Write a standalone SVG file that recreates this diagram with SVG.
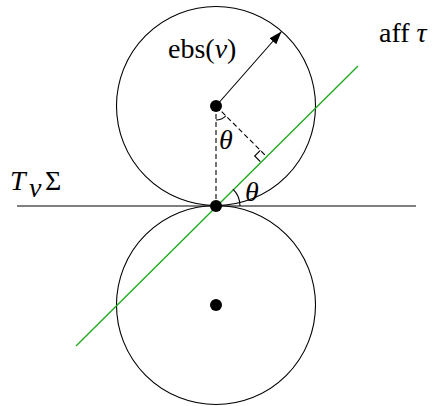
<svg xmlns="http://www.w3.org/2000/svg" width="434" height="406" viewBox="0 0 434 406">
<style>
.ln{fill:none;stroke:#000;stroke-width:1.1}
.dash{fill:none;stroke:#000;stroke-width:1.1;stroke-dasharray:5,3}
.green{fill:none;stroke:#1aaa1a;stroke-width:1.3}
.dot{fill:#000}
.t{font-family:"Liberation Serif","DejaVu Serif",serif;font-size:28px;fill:#000}
.i{font-style:italic}
</style>
<defs>
<marker id="ah" viewBox="0 0 13 9" refX="13" refY="4.5" markerWidth="13" markerHeight="9" markerUnits="userSpaceOnUse" orient="auto">
<path d="M0,0 L13,4.5 L0,9 Z" fill="#000"/>
</marker>
</defs>
<rect width="434" height="406" fill="#fff"/>
<g id="circle-top"><circle class="ln" cx="216" cy="106" r="99.5"/></g>
<g id="circle-bottom"><circle class="ln" cx="216" cy="305" r="99.5"/></g>
<g id="tangent-plane">
<line class="ln" x1="17" y1="206" x2="416" y2="206"/>
<text class="t i" x="10" y="190">T</text>
<text class="t i" x="29" y="197" font-size="19">v</text>
<text class="t" x="45" y="190" font-size="29">Σ</text>
</g>
<g id="aff-tau">
<line class="green" x1="76" y1="346" x2="358" y2="66"/>
<text class="t" x="379" y="42" font-size="28">aff <tspan class="i">τ</tspan></text>
</g>
<g id="connectors">
<line class="ln" x1="216" y1="106" x2="281.5" y2="31.5" marker-end="url(#ah)"/>
<line class="dash" x1="216" y1="106" x2="216" y2="206"/>
<line class="dash" x1="216" y1="106" x2="266" y2="156"/>
<path class="ln" d="M260.34,150.34 L254.69,156 L260.34,161.66"/>
<path class="ln" d="M216,120 A14,14 0 0 0 225.9,115.9"/>
<path class="ln" d="M240,206 A24,24 0 0 0 232.97,189.03"/>
</g>
<g id="labels">
<text class="t" x="168" y="58" font-size="29">ebs(<tspan class="i">v</tspan>)</text>
<text class="t i" x="219" y="149">θ</text>
<text class="t i" x="245" y="201">θ</text>
</g>
<g id="points">
<circle class="dot" cx="216" cy="106" r="6"/>
<circle class="dot" cx="216" cy="206" r="6"/>
<circle class="dot" cx="216" cy="305" r="6"/>
</g>
</svg>
